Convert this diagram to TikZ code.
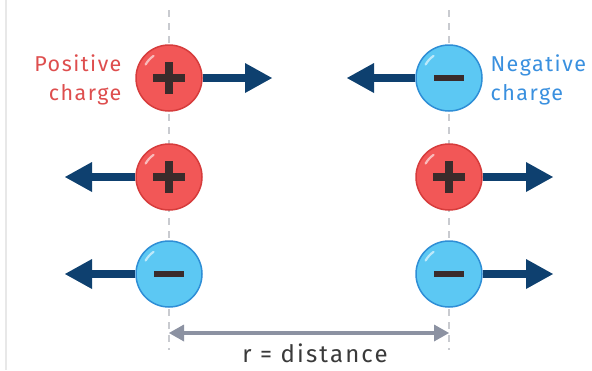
\documentclass[tikz,border=0pt]{standalone}
\usepackage{fontspec}
\setmainfont{Fira Sans}
\newfontfamily\labelfont[LetterSpace=7]{Fira Sans}
\newfontfamily\rulerfont[LetterSpace=9]{Fira Sans}
\usetikzlibrary{arrows.meta,calc}

\definecolor{posfill}{HTML}{F25757}
\definecolor{posedge}{HTML}{D63C3C}
\definecolor{negfill}{HTML}{5CC8F3}
\definecolor{negedge}{HTML}{2E8ED6}
\definecolor{signink}{HTML}{3A2B2B}
\definecolor{forceblue}{HTML}{0E406F}
\definecolor{guidegrey}{HTML}{C9CBD0}
\definecolor{rulergrey}{HTML}{8C92A2}
\definecolor{labelred}{HTML}{DE4E4E}
\definecolor{labelblue}{HTML}{3A90DF}
\definecolor{textgrey}{HTML}{3A3A3A}

\tikzset{
  charge/.style={circle, minimum size=66pt, inner sep=0pt, line width=1.5pt},
  poscharge/.style={charge, fill=posfill, draw=posedge},
  negcharge/.style={charge, fill=negfill, draw=negedge},
  force/.style={draw=forceblue, line width=8pt,
    -{Triangle[length=27pt, width=30pt, line width=0pt]}},
  guide/.style={draw=guidegrey, line width=1.2pt, dash pattern=on 7pt off 6pt},
  ruler/.style={draw=rulergrey, line width=4pt,
    {Triangle[length=15pt, width=17pt, line width=0pt]}-{Triangle[length=15pt, width=17pt, line width=0pt]}},
  gleam/.style={draw=white, opacity=0.6, line width=2.2pt, line cap=round},
}

% plus and minus marks drawn inside a charge node
\newcommand{\plusmark}[1]{%
  \fill[signink] ($(#1)+(-16pt,-4pt)$) rectangle ($(#1)+(16pt,4pt)$);
  \fill[signink] ($(#1)+(-4pt,-16pt)$) rectangle ($(#1)+(4pt,16pt)$);
  \draw[gleam] ($(#1)+(125:27pt)$) arc[start angle=125, end angle=150, radius=27pt];}
\newcommand{\minusmark}[1]{%
  \fill[signink] ($(#1)+(-15pt,-3pt)$) rectangle ($(#1)+(15pt,3pt)$);
  \draw[gleam] ($(#1)+(125:27pt)$) arc[start angle=125, end angle=150, radius=27pt];}

\begin{document}
\begin{tikzpicture}[x=1pt, y=-1pt]
\useasboundingbox (0,0) rectangle (592,370);
\fill[white] (0,0) rectangle (592,370);
\draw[black!9, line width=2pt] (6,0) -- (6,370);

% guide lines through the two charge columns
\coordinate (gl1) at (169,10);
\coordinate (gl2) at (169,350);
\coordinate (gr1) at (449,10);
\coordinate (gr2) at (449,350);
\draw[guide] (gl1) -- (gl2);
\draw[guide] (gr1) -- (gr2);

% charges
\node[poscharge] (p1) at (169,78) {};
\node[negcharge] (n1) at (449,78) {};
\node[poscharge] (p2) at (169,177) {};
\node[poscharge] (p3) at (449,177) {};
\node[negcharge] (n2) at (169,274) {};
\node[negcharge] (n3) at (449,274) {};

\plusmark{p1} \plusmark{p2} \plusmark{p3}
\minusmark{n1} \minusmark{n2} \minusmark{n3}

% arrow tips
\coordinate (t1) at (272,78);
\coordinate (t2) at (347,78);
\coordinate (t3) at (65,177);
\coordinate (t4) at (553,177);
\coordinate (t5) at (65,274);
\coordinate (t6) at (553,274);

\draw[force] (p1.east) -- (t1);
\draw[force] (n1.west) -- (t2);
\draw[force] (p2.west) -- (t3);
\draw[force] (p3.east) -- (t4);
\draw[force] (n2.west) -- (t5);
\draw[force] (n3.east) -- (t6);

% labels
\node[text=labelred, font=\labelfont\fontsize{21.5}{29}\selectfont, align=right, anchor=east] (lp) at (125,80) {Positive\\charge};
\node[text=labelblue, font=\labelfont\fontsize{21.5}{29}\selectfont, align=left, anchor=west] (ln) at (487,80) {Negative\\charge};

% separation
\coordinate (d1) at (169,333);
\coordinate (d2) at (449,333);
\draw[ruler] (d1) -- (d2);
\node[text=textgrey, font=\rulerfont\fontsize{24}{28}\selectfont, anchor=base, inner sep=0pt] (lr) at (315,362) {r = distance};
\end{tikzpicture}
\end{document}
